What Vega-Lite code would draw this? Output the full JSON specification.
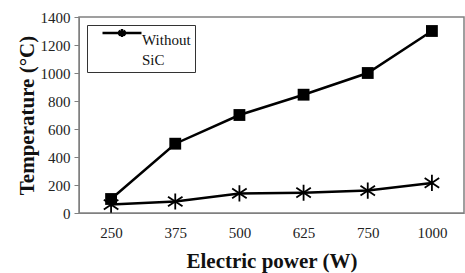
{
  "$schema": "https://vega.github.io/schema/vega-lite/v6.json",
  "width": 385,
  "height": 196,
  "autosize": {"type": "none"},
  "padding": {"left": 79, "top": 17, "right": 1, "bottom": 60},
  "background": "white",
  "config": {
    "font": "Liberation Serif",
    "view": {"stroke": "#808080", "strokeWidth": 1.5},
    "axis": {"labelFont": "Liberation Serif", "titleFont": "Liberation Serif", "labelColor": "#222", "titleColor": "#111", "grid": false, "domainColor": "#808080", "tickColor": "#808080"},
    "legend": {"labelFont": "Liberation Serif"}
  },
  "data": {
    "values": [
      {"power": "250", "series": "With SiC", "temp": 100},
      {"power": "375", "series": "With SiC", "temp": 495},
      {"power": "500", "series": "With SiC", "temp": 700},
      {"power": "625", "series": "With SiC", "temp": 845},
      {"power": "750", "series": "With SiC", "temp": 1000},
      {"power": "1000", "series": "With SiC", "temp": 1300},
      {"power": "250", "series": "Without SiC", "temp": 60},
      {"power": "375", "series": "Without SiC", "temp": 82},
      {"power": "500", "series": "Without SiC", "temp": 140},
      {"power": "625", "series": "Without SiC", "temp": 145},
      {"power": "750", "series": "Without SiC", "temp": 160},
      {"power": "1000", "series": "Without SiC", "temp": 215}
    ]
  },
  "encoding": {
    "x": {
      "field": "power", "type": "ordinal", "sort": null,
      "scale": {"type": "point", "padding": 0.5},
      "axis": {"title": "Electric power (W)", "labelAngle": 0, "ticks": false, "labelPadding": 12, "labelFont": "Liberation Serif", "labelFontSize": 15, "titleFontSize": 21, "titleFontWeight": "bold", "titlePadding": 10}
    },
    "y": {
      "field": "temp", "type": "quantitative",
      "scale": {"domain": [0, 1400], "nice": false},
      "axis": {"title": "Temperature (°C)", "format": "d", "values": [0, 200, 400, 600, 800, 1000, 1200, 1400], "tickSize": 5, "labelPadding": 4, "labelFont": "Liberation Serif", "labelFontSize": 15, "titleFontSize": 21, "titleFontWeight": "bold", "titlePadding": 3}
    }
  },
  "layer": [
    {
      "transform": [{"filter": "datum.series === 'With SiC'"}],
      "mark": {"type": "line", "color": "black", "strokeWidth": 2.5},
      "encoding": {}
    },
    {
      "transform": [{"filter": "datum.series === 'With SiC'"}],
      "mark": {"type": "point", "shape": "square", "filled": true, "color": "black", "opacity": 1, "size": 140},
      "encoding": {}
    },
    {
      "transform": [{"filter": "datum.series === 'Without SiC'"}],
      "mark": {"type": "line", "strokeWidth": 2.5},
      "encoding": {
        "color": {
          "field": "series", "type": "nominal",
          "scale": {"domain": ["Without SiC"], "range": ["black"]},
          "legend": {
            "title": null,
            "orient": "none",
            "legendX": 8,
            "legendY": 8,
            "strokeColor": "#333",
            "fillColor": "white",
            "padding": 4,
            "symbolType": "M-2,-0.72H2M0,-1.12V-0.32M-0.35,-0.95L0.35,-0.49M-0.35,-0.49L0.35,-0.95",
            "symbolSize": 380,
            "symbolStrokeWidth": 2.5,
            "symbolOffset": 20,
            "labelExpr": "['Without', '   SiC']",
            "labelFont": "Liberation Serif",
            "labelFontSize": 15,
            "labelColor": "#111",
            "labelOffset": 9,
            "labelLimit": 200,
            "encode": {"labels": {"update": {"lineHeight": {"value": 20}}}}
          }
        }
      }
    },
    {
      "transform": [{"filter": "datum.series === 'Without SiC'"}],
      "mark": {"type": "point", "filled": false, "color": "black", "opacity": 1, "strokeWidth": 1.8, "size": 260, "shape": "M0,-1L0,1M-0.9,-0.6L0.9,0.6M-0.9,0.6L0.9,-0.6"},
      "encoding": {}
    }
  ]
}
